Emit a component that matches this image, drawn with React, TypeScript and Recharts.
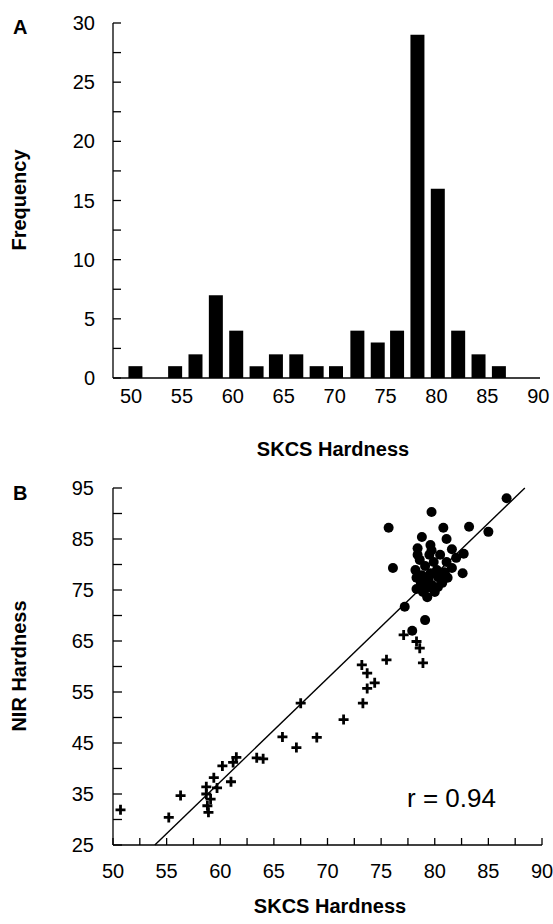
import { BarChart, Bar, ScatterChart, Scatter, XAxis, YAxis, ReferenceLine } from "recharts";

const FONT = '"Liberation Sans", Arial, sans-serif';
const INK = "#000";

// Panel A: histogram of SKCS hardness (bin centres read against the tick labels)
const BIN_CENTERS = [50.4, 52.4, 54.3, 56.3, 58.3, 60.3, 62.3, 64.2, 66.2, 68.2, 70.1, 72.2, 74.2, 76.1, 78.1, 80.1, 82.1, 84.1, 86.1];
const FREQUENCIES = [1, 0, 1, 2, 7, 4, 1, 2, 2, 1, 1, 4, 3, 4, 29, 16, 4, 2, 1];
const FREQ_TICKS = [0, 2.5, 5, 7.5, 10, 12.5, 15, 17.5, 20, 22.5, 25, 27.5, 30];
const SKCS_TICKS_A = [50, 55, 60, 65, 70, 75, 80, 85, 90];
const SKCS_DOMAIN_A: [number, number] = [48.23, 90.17];

// Panel B: NIR vs SKCS hardness
const HARD_SKCS = [
  86.7, 79.7, 75.7, 80.8, 83.2, 85.0, 78.8, 81.1, 78.4, 79.7, 81.6, 82.7, 82.0, 80.5, 76.1, 78.2,
  79.1, 80.2, 81.6, 82.6, 78.3, 79.4, 80.3, 80.7, 79.7, 80.3, 78.3, 79.3, 77.2, 79.1, 77.9, 78.6,
  79.9, 81.1, 78.8, 79.6, 80.9, 78.7, 79.3, 80.0, 78.9, 79.5, 81.2, 78.4, 79.6, 81.0,
];
const HARD_NIR = [
  93.0, 90.3, 87.2, 87.2, 87.4, 86.4, 85.4, 85.0, 83.2, 82.8, 83.0, 82.1, 81.3, 81.9, 79.3, 78.9,
  79.7, 78.9, 79.3, 78.3, 77.4, 77.0, 77.5, 76.4, 76.0, 75.6, 75.2, 73.6, 71.7, 69.1, 67.0, 80.9,
  80.5, 80.5, 77.9, 78.3, 78.5, 76.4, 75.4, 74.6, 74.6, 81.9, 77.4, 81.9, 83.8, 77.9,
];
const SOFT_SKCS = [
  77.1, 78.3, 78.6, 78.9, 75.5, 73.2, 73.7, 74.4, 73.7, 73.3, 71.5, 67.5, 65.8, 69.0, 67.1, 63.4,
  64.0, 61.5, 61.2, 60.2, 61.0, 59.4, 59.7, 58.7, 58.7, 59.1, 58.8, 58.9, 56.3, 55.2, 50.7,
];
const SOFT_NIR = [
  66.2, 64.9, 63.6, 60.7, 61.3, 60.3, 58.7, 56.8, 55.7, 52.8, 49.6, 52.8, 46.2, 46.1, 44.1, 42.1,
  41.9, 42.2, 41.2, 40.5, 37.4, 38.2, 36.2, 36.4, 35.0, 34.0, 32.7, 31.4, 34.7, 30.4, 31.9,
];
const FIT_SKCS = [53.9, 88.4];
const FIT_NIR = [25, 95];
const SKCS_TICKS_B = [50, 52.5, 55, 57.5, 60, 62.5, 65, 67.5, 70, 72.5, 75, 77.5, 80, 82.5, 85, 87.5, 90];
const NIR_TICKS = [25, 30, 35, 40, 45, 50, 55, 60, 65, 70, 75, 80, 85, 90, 95];

const histData = BIN_CENTERS.map((x, i) => ({ x, count: FREQUENCIES[i] }));
const hardData = HARD_SKCS.map((x, i) => ({ x, y: HARD_NIR[i] }));
const softData = SOFT_SKCS.map((x, i) => ({ x, y: SOFT_NIR[i] }));

const line = { stroke: INK, strokeWidth: 1.3 };

// only every other tick gets a number
function makeTick(start: number, step: number, anchor: "end" | "middle", dy: string) {
  // eslint-disable-next-line @typescript-eslint/no-explicit-any
  return function Tick(props: any) {
    const { x, y, payload } = props;
    const k = (payload.value - start) / step;
    if (Math.abs(k - Math.round(k)) > 1e-6) return <g />;
    return (
      <text x={x} y={y} dy={dy} textAnchor={anchor} fontSize={20} fontFamily={FONT} fill={INK}>
        {payload.value}
      </text>
    );
  };
}

// eslint-disable-next-line @typescript-eslint/no-explicit-any
function Dot(props: any) {
  return <circle cx={props.cx} cy={props.cy} r={5} fill={INK} />;
}

// eslint-disable-next-line @typescript-eslint/no-explicit-any
function Plus(props: any) {
  const { cx, cy } = props;
  return (
    <path
      d={`M${cx - 5},${cy}H${cx + 5}M${cx},${cy - 5}V${cy + 5}`}
      stroke={INK}
      strokeWidth={2.8}
      fill="none"
    />
  );
}

export default function App() {
  return (
    <div style={{ position: "absolute", left: 0, top: 0, width: 553, height: 924, background: "#fff" }}>
      <div style={{ position: "absolute", left: 0, top: 0 }}>
        <BarChart width={553} height={460} data={histData} margin={{ top: 23, right: 13, bottom: 22, left: 53 }}>
          <XAxis
            dataKey="x"
            type="number"
            domain={SKCS_DOMAIN_A}
            ticks={SKCS_TICKS_A}
            interval={0}
            allowDataOverflow
            axisLine={line}
            tickLine={false}
            tickSize={0}
            tickMargin={11}
            height={60}
            tick={makeTick(50, 5, "middle", "0.71em")}
          />
          <XAxis xAxisId="top" orientation="top" type="number" domain={SKCS_DOMAIN_A} allowDataOverflow
            ticks={[]} tick={false} tickLine={false} height={0} axisLine={line} />
          <YAxis
            type="number"
            domain={[0, 30]}
            ticks={FREQ_TICKS}
            interval={0}
            width={60}
            axisLine={line}
            tickLine={line}
            tickSize={-8}
            tickMargin={26}
            tick={makeTick(0, 5, "end", "0.355em")}
          />
          <YAxis yAxisId="right" orientation="right" domain={[0, 30]} ticks={[]} tick={false}
            tickLine={false} width={0} axisLine={line} />
          <Bar dataKey="count" fill={INK} barSize={14} isAnimationActive={false} />
        </BarChart>
      </div>

      <div style={{ position: "absolute", left: 0, top: 460 }}>
        <ScatterChart width={553} height={464} margin={{ top: 28, right: 11, bottom: 19, left: 53 }}>
          <XAxis
            dataKey="x"
            type="number"
            domain={[50, 90]}
            ticks={SKCS_TICKS_B}
            interval={0}
            allowDataOverflow
            axisLine={line}
            tickLine={line}
            tickSize={-7}
            tickMargin={26}
            height={60}
            tick={makeTick(50, 5, "middle", "0.71em")}
          />
          <XAxis xAxisId="top" orientation="top" type="number" domain={[50, 90]} allowDataOverflow
            ticks={[]} tick={false} tickLine={false} height={0} axisLine={line} />
          <YAxis
            dataKey="y"
            type="number"
            domain={[25, 95]}
            ticks={NIR_TICKS}
            interval={0}
            allowDataOverflow
            width={60}
            axisLine={line}
            tickLine={line}
            tickSize={-9}
            tickMargin={28}
            tick={makeTick(25, 10, "end", "0.355em")}
          />
          <YAxis yAxisId="right" orientation="right" type="number" domain={[25, 95]} ticks={[]} tick={false}
            tickLine={false} width={0} axisLine={line} />
          <ReferenceLine
            segment={[
              { x: FIT_SKCS[0], y: FIT_NIR[0] },
              { x: FIT_SKCS[1], y: FIT_NIR[1] },
            ]}
            stroke={INK}
            strokeWidth={1.4}
          />
          <Scatter data={softData} shape={Plus} isAnimationActive={false} />
          <Scatter data={hardData} shape={Dot} isAnimationActive={false} />
        </ScatterChart>
      </div>

      {/* panel letters and axis titles */}
      <svg width={553} height={924} style={{ position: "absolute", left: 0, top: 0, pointerEvents: "none" }}
        fontFamily={FONT} fill={INK}>
        <text x={13} y={34} fontSize={20} fontWeight="bold">A</text>
        <text x={13} y={500} fontSize={20} fontWeight="bold">B</text>
        <text x={26} y={200} fontSize={20} fontWeight="bold" textAnchor="middle" transform="rotate(-90 26 200)">
          Frequency
        </text>
        <text x={26} y={666} fontSize={20} fontWeight="bold" textAnchor="middle" transform="rotate(-90 26 666)">
          NIR Hardness
        </text>
        <text x={333} y={456} fontSize={20} fontWeight="bold" textAnchor="middle">SKCS Hardness</text>
        <text x={330} y={913} fontSize={20} fontWeight="bold" textAnchor="middle">SKCS Hardness</text>
        <text x={407} y={807} fontSize={26}>r = 0.94</text>
      </svg>
    </div>
  );
}
